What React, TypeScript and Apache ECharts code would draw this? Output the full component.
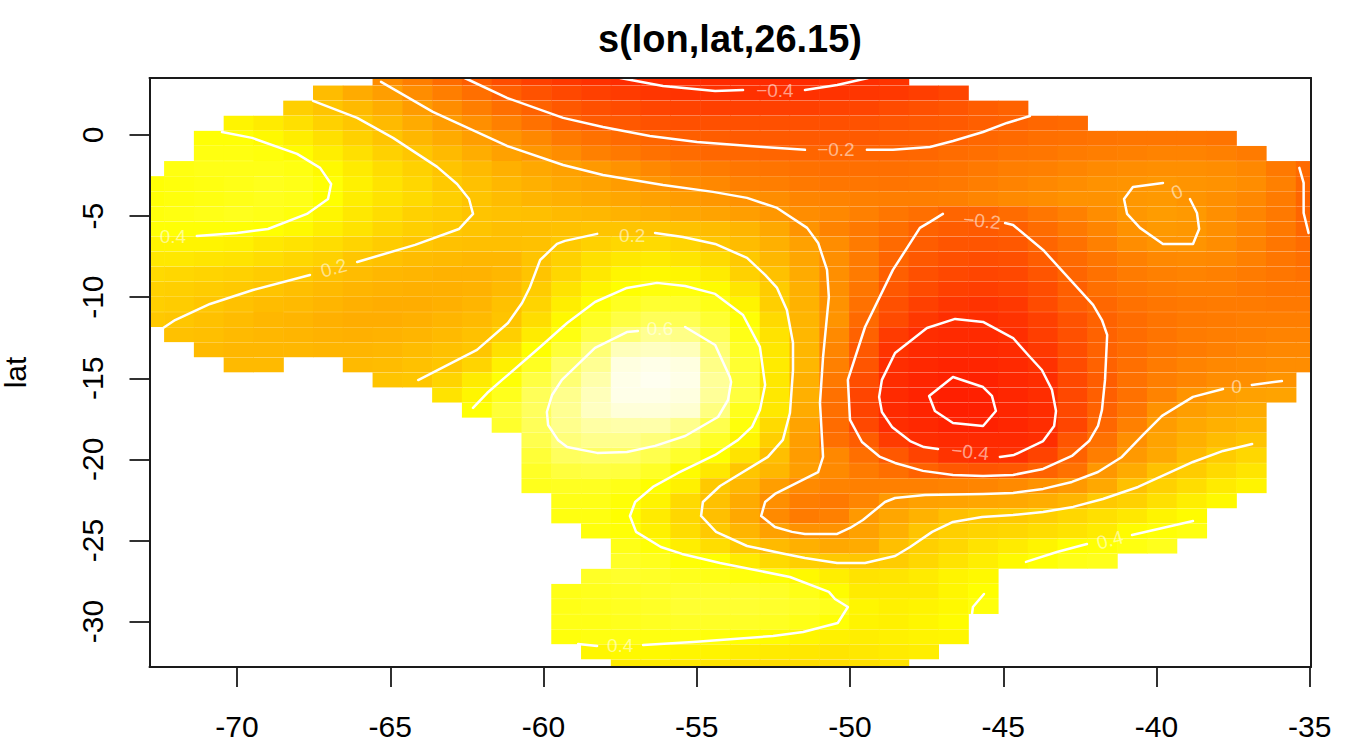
import React, { useEffect, useRef } from "react";
import * as echarts from "echarts";

const lonTicks = [-70, -65, -60, -55, -50, -45, -40, -35];
const latTicks = [-30, -25, -20, -15, -10, -5, 0];
const lonRange = [-72.855, -34.96];
const latRange = [-32.8, 3.51];
const FONT = "Liberation Sans";

// first filled column of each of the 40 rows (north to south)
const rowStarts = [8, 6, 5, 3, 2, 2, 1, 0, 0, 0, 0, 0, 0, 0, 0, 0, 0, 1, 2, 3, 8, 10, 11, 12, 13, 13, 13, 13, 14, 14, 15, 16, 16, 15, 14, 14, 14, 14, 15, 16];
// smooth term in hundredths
const rowValues: (number | null)[][] = [
  [-3, -9, -16, -22, -28, -33, -36, -39, -41, -43, -44, -45, -45, -45, -44, -42, -40, -38],
  [16, 9, 4, -3, -9, -15, -21, -26, -30, -33, -35, -37, -38, -39, -39, -39, -39, -38, -37, -36, -34, -31],
  [23, 19, 15, 10, 3, -3, -9, -15, -20, -24, -27, -29, -31, -32, -33, -33, -33, -33, -32, -31, -29, -27, -25, -22, -20],
  [36, 33, 29, 24, 20, 15, 9, 3, -2, -8, -14, -20, -23, -24, -26, -27, -27, -27, -27, -27, -27, -26, -25, -24, -23, -21, -20, -18, -17],
  [41, 41, 38, 34, 29, 24, 19, 14, 9, 4, 0, -5, -11, -14, -17, -19, -21, -22, -23, -23, -23, -23, -23, -22, -21, -20, -18, -17, -15, -14, -13, -12, -12, -12, -13],
  [43, 43, 42, 39, 34, 29, 24, 20, 15, 10, 5, 1, -3, -8, -11, -14, -16, -18, -18, -19, -19, -19, -19, -19, -18, -16, -15, -13, -12, -10, -9, -8, -7, -7, -8, -10],
  [43, 44, 44, 44, 43, 38, 33, 28, 24, 19, 15, 11, 8, 5, 2, -1, -5, -8, -10, -12, -13, -14, -15, -15, -15, -14, -13, -11, -9, -8, -6, -4, -3, -2, -2, -3, -5, -11, -17],
  [41, 42, 43, 44, 45, 44, 41, 35, 30, 26, 21, 18, 14, 11, 8, 6, 3, 0, -3, -5, -8, -9, -11, -12, -12, -13, -12, -11, -9, -7, -5, -3, -1, 0, 1, 0, -1, -3, -8, -18],
  [41, 42, 43, 44, 45, 44, 40, 34, 30, 27, 23, 19, 16, 13, 11, 9, 7, 5, 3, 1, -1, -3, -6, -7, -8, -9, -9, -8, -6, -4, -3, -1, -1, 1, 2, 0, -2, -5, -10, -19],
  [42, 43, 44, 45, 44, 42, 37, 32, 28, 24, 22, 19, 18, 17, 15, 14, 12, 10, 8, 6, 4, 1, -3, -5, -8, -12, -15, -19, -19, -16, -12, -8, -3, 1, 3, 2, -2, -6, -11, -19],
  [41, 41, 41, 41, 40, 38, 34, 30, 26, 23, 21, 19, 17, 17, 18, 19, 19, 19, 18, 16, 13, 8, 0, -7, -11, -15, -20, -22, -23, -21, -16, -11, -6, -1, 2, 1, -2, -6, -11, -18],
  [36, 36, 36, 35, 32, 30, 28, 25, 22, 20, 18, 17, 17, 18, 21, 24, 26, 27, 25, 20, 16, 11, 5, -3, -10, -17, -22, -25, -25, -24, -19, -14, -8, -3, 0, 0, -3, -7, -12, -16],
  [32, 32, 31, 30, 28, 26, 24, 20, 18, 16, 15, 14, 14, 19, 24, 29, 32, 33, 31, 27, 21, 14, 7, -2, -10, -19, -24, -27, -28, -27, -22, -17, -12, -8, -5, -4, -5, -8, -12, -15],
  [27, 26, 25, 24, 22, 21, 18, 16, 14, 13, 12, 12, 14, 19, 26, 32, 37, 38, 37, 33, 24, 18, 9, -2, -10, -21, -27, -30, -31, -30, -25, -19, -14, -10, -8, -7, -8, -10, -12, -14],
  [24, 23, 22, 21, 19, 17, 15, 13, 12, 11, 11, 12, 15, 22, 30, 36, 40, 42, 42, 39, 31, 22, 11, -2, -12, -24, -29, -33, -34, -32, -28, -21, -15, -12, -10, -9, -9, -11, -12, -12],
  [23, 22, 20, 18, 16, 15, 13, 11, 10, 10, 11, 13, 18, 25, 34, 41, 46, 49, 48, 44, 36, 23, 12, -1, -14, -27, -33, -37, -38, -36, -29, -22, -18, -14, -12, -11, -10, -10, -11, -11],
  [21, 20, 18, 16, 14, 13, 11, 10, 10, 11, 13, 15, 19, 28, 38, 46, 52, 56, 55, 49, 41, 27, 13, 0, -17, -29, -36, -40, -41, -38, -33, -26, -20, -16, -13, -11, -10, -9, -9, -9],
  [18, 17, 15, 14, 13, 12, 11, 12, 13, 15, 18, 23, 33, 43, 52, 61, 66, 64, 55, 44, 30, 14, -4, -20, -35, -41, -46, -46, -40, -34, -27, -20, -16, -13, -10, -9, -8, -7, -7],
  [15, 14, 14, 14, 13, 13, 14, 16, 18, 20, 29, 40, 50, 61, 72, 73, 72, 61, 47, 32, 14, -6, -24, -38, -46, -50, -49, -44, -36, -28, -20, -16, -12, -10, -8, -6, -5, -5],
  [15, 15, null, null, 15, 16, 18, 20, 25, 35, 46, 58, 66, 77, 78, 77, 64, 49, 33, 14, -8, -25, -41, -49, -55, -54, -48, -39, -29, -20, -15, -10, -7, -5, -4, -3, -3],
  [19, 20, 25, 33, 41, 52, 61, 70, 78, 79, 78, 67, 50, 32, 11, -11, -28, -43, -54, -61, -60, -50, -42, -30, -22, -14, -9, -6, -3, -2, 0],
  [30, 37, 45, 56, 65, 72, 78, 78, 77, 67, 51, 32, 11, -14, -31, -46, -57, -63, -62, -52, -42, -30, -21, -14, -7, 0, 3, 5, 6],
  [41, 50, 57, 66, 73, 76, 76, 75, 63, 45, 32, 9, -15, -32, -47, -56, -63, -62, -52, -43, -30, -20, -12, -1, 4, 7, 9],
  [48, 56, 65, 69, 70, 70, 65, 54, 42, 27, 6, -16, -30, -42, -50, -59, -60, -52, -42, -31, -18, -8, 3, 8, 11, 13],
  [54, 62, 65, 65, 62, 56, 47, 37, 23, 4, -15, -22, -35, -42, -46, -47, -46, -40, -25, -14, -2, 6, 11, 16, 19],
  [50, 57, 58, 58, 54, 48, 40, 30, 17, 3, -5, -15, -24, -32, -38, -40, -39, -32, -20, -9, 2, 8, 15, 22, 26],
  [47, 51, 52, 51, 47, 39, 32, 20, 14, 4, -4, -10, -15, -20, -24, -25, -24, -20, -14, 1, 9, 18, 22, 27, 31],
  [45, 46, 46, 44, 40, 35, 21, 14, 4, -4, -7, -8, -8, -8, -7, -6, -4, -1, 2, 8, 18, 24, 28, 33, 36],
  [44, 44, 41, 36, 27, 18, 9, -2, -9, -11, -6, 2, 5, 6, 7, 8, 10, 13, 21, 24, 29, 34, 38],
  [43, 43, 40, 33, 26, 17, 8, -4, -10, -8, 2, 7, 12, 17, 20, 21, 23, 26, 29, 32, 36, 39],
  [42, 41, 35, 28, 21, 13, 5, -1, -1, 5, 11, 19, 23, 25, 26, 28, 30, 33, 39, 41, 43],
  [44, 41, 34, 28, 21, 15, 11, 8, 9, 17, 23, 26, 30, 33, 36, 40, 41, 43, 45],
  [47, 45, 41, 40, 33, 27, 23, 21, 20, 22, 26, 30, 34, 38, 41, 44, 45],
  [47, 48, 47, 45, 44, 42, 41, 38, 34, 30, 31, 33, 36, 38],
  [44, 45, 46, 47, 48, 48, 48, 47, 44, 39, 33, 33, 33, 37, 40],
  [44, 45, 46, 47, 49, 49, 49, 48, 47, 45, 37, 35, 36, 38, 42],
  [44, 44, 45, 46, 47, 47, 47, 46, 44, 41, 36, 35, 37, 39],
  [42, 43, 43, 43, 43, 42, 40, 39, 37, 35, 34, 35, 36, 37],
  [37, 38, 38, 37, 36, 34, 33, 32, 31, 32, 33, 34],
  [33, 33, 32, 31, 29, 28, 28, 28, 29, 30],
];

type Pts = number[][];
const contourPieces: Pts[] = [
  // 0.4, west
  [[-70.49, 0.18], [-69.51, -0.18], [-68.04, -1.17], [-67.29, -2.03], [-66.93, -3.02], [-67.03, -3.95], [-67.72, -4.87], [-68.99, -5.8], [-70, -6.04], [-71.31, -6.23]],
  // 0.2, west
  [[-67.52, 2.1], [-66.08, 1.05], [-64.91, -0.18], [-63.47, -1.97], [-62.82, -3.02], [-62.43, -3.95], [-62.3, -4.87], [-62.76, -5.8], [-64.19, -6.78], [-66.08, -7.83]],
  [[-67.62, -8.63], [-69.48, -9.56], [-70.88, -10.42], [-72.02, -11.41], [-72.41, -11.9]],
  // 0, long line
  [[-65.3, 3.27], [-63.61, 1.42], [-61.19, -0.68], [-59.36, -1.85], [-58.06, -2.47], [-56.1, -3.08], [-54.47, -3.51], [-53.36, -3.88], [-52.38, -4.5], [-51.4, -5.73], [-51.04, -6.66], [-50.75, -8.32], [-50.69, -9.99], [-50.88, -13.69], [-50.98, -16.52], [-50.88, -19.85], [-51.04, -20.78], [-52.45, -22.13], [-52.77, -22.63], [-52.9, -23.49], [-52.45, -24.17], [-51.89, -24.47], [-51.47, -24.6], [-50.42, -24.6], [-50, -24.23], [-49.58, -23.74], [-48.86, -22.63], [-48.53, -22.38], [-47.55, -22.19], [-45.66, -22.13], [-44.68, -22.07], [-43.7, -21.82], [-42.76, -21.39], [-41.91, -20.78], [-41.13, -19.85], [-40.44, -18.49], [-39.82, -17.32], [-38.81, -16.15], [-37.83, -15.66]],
  [[-36.89, -15.41], [-35.91, -15.17]],
  // 0, ring in the east
  [[-39.79, -2.96], [-40.77, -3.21], [-41.06, -3.95], [-40.96, -4.87], [-40.54, -5.73], [-39.79, -6.72], [-38.81, -6.72], [-38.61, -5.8], [-38.68, -4.81], [-38.91, -3.95]],
  // -0.2, far east
  [[-35.34, -2.03], [-35.2, -2.96], [-35.2, -4.81], [-35.04, -6.04]],
  // -0.2, north
  [[-62.57, 3.51], [-61.19, 2.28], [-59.36, 1.05], [-58.06, 0.49], [-56.53, -0.06], [-54.99, -0.43], [-52.84, -0.74], [-51.47, -0.92]],
  [[-49.45, -0.92], [-48.6, -0.92], [-47.39, -0.74], [-46.64, -0.37], [-45.66, 0.18], [-44.88, 0.74], [-44.13, 1.17]],
  // -0.4, north
  [[-57.5, 3.51], [-56.1, 3.02], [-54.4, 2.71], [-53.49, 2.77]],
  [[-51.47, 2.77], [-50.42, 3.08], [-49.41, 3.51]],
  // 0.2, middle
  [[-64.09, -15.11], [-62.17, -13.25], [-61.16, -11.59], [-60.7, -10.36], [-60.44, -9.37], [-60.11, -7.71], [-59.56, -6.72], [-59.3, -6.53], [-58.25, -6.1]],
  [[-56.36, -6.04], [-55.45, -6.29], [-54.4, -6.72], [-53.36, -7.58], [-52.77, -8.63], [-52.38, -9.43], [-52.06, -10.79], [-51.86, -12.82], [-51.86, -14.49], [-51.96, -17.14], [-52.19, -18.8], [-52.68, -19.85], [-54.24, -21.64], [-54.8, -22.63], [-54.86, -23.49], [-54.37, -24.47], [-53.36, -25.34], [-52.28, -25.77], [-51.47, -26.08], [-50.42, -26.39], [-49.51, -26.39], [-48.53, -25.96], [-48.04, -25.4], [-47.32, -24.47], [-46.64, -23.86], [-45.69, -23.55], [-44.68, -23.43], [-43.7, -23.24], [-42.72, -22.93], [-41.75, -22.44], [-40.6, -21.7], [-38.81, -20.16], [-37.83, -19.48], [-36.88, -19.05]],
  // 0.4, middle
  [[-62.3, -16.83], [-61.84, -15.91], [-61.35, -15.1], [-60.11, -13.07], [-59.23, -11.59], [-58.32, -10.3], [-57.28, -9.43], [-56.3, -9.12], [-55.38, -9.31], [-54.4, -9.8], [-53.49, -11.1], [-52.94, -13.07], [-52.77, -15.41], [-52.94, -16.95], [-53.2, -18], [-53.65, -18.8], [-54.4, -19.73], [-55.61, -20.84], [-56.43, -21.7], [-57.01, -22.63], [-57.18, -23.49], [-56.98, -24.47], [-56.17, -25.4], [-55.48, -25.83], [-54.24, -26.39], [-51.96, -27.25], [-50.69, -28.17], [-50.49, -28.61], [-50.07, -29.1], [-50.4, -30.09], [-51.53, -30.64], [-52.51, -30.89], [-55.12, -31.26], [-56.75, -31.44]],
  [[-58.25, -31.5], [-58.87, -31.38]],
  // 0.6
  [[-56.92, -12.08], [-57.28, -12.15], [-58.32, -13.13], [-59.4, -15.1], [-59.72, -16.03], [-59.89, -17.08], [-59.85, -17.88], [-59.53, -18.8], [-59.23, -19.24], [-58.25, -19.6], [-57.28, -19.54], [-56.36, -19.17], [-55.38, -18.56], [-54.31, -17.39], [-53.98, -16.34], [-53.88, -15.23], [-53.92, -14.92], [-54.4, -12.95], [-55.38, -11.84]],
  // -0.2, ring
  [[-44.94, -5.43], [-44.68, -5.55], [-43.7, -7.09], [-42.07, -10.48], [-41.78, -11.41], [-41.61, -12.33], [-41.68, -15.1], [-41.78, -16.95], [-41.91, -17.94], [-42.2, -18.87], [-42.76, -19.79], [-43.7, -20.59], [-44.68, -20.96], [-45.66, -21.02], [-46.64, -20.96], [-47.62, -20.71], [-48.53, -20.22], [-49.02, -19.85], [-49.61, -18.93], [-50, -17.57], [-50.07, -15.1], [-49.51, -11.84], [-48.6, -8.32], [-47.72, -5.73], [-47.39, -5.36], [-46.97, -4.87]],
  // -0.4, ring
  [[-45.11, -19.85], [-44.65, -19.73], [-43.7, -18.87], [-43.34, -17.94], [-43.28, -17.02], [-43.41, -15.72], [-43.74, -14.49], [-44.13, -13.69], [-44.68, -12.52], [-45.66, -11.53], [-46.57, -11.34], [-47.49, -11.9], [-48.53, -13.44], [-48.96, -15.1], [-49.05, -16.15], [-48.96, -17.08], [-48.63, -18], [-48.04, -18.87], [-47.59, -19.24], [-47.13, -19.36]],
  // -0.6, ring
  [[-46.64, -14.92], [-47.42, -16.09], [-47.23, -17.02], [-46.64, -17.76], [-45.66, -17.94], [-45.24, -17.02], [-45.37, -16.09], [-45.66, -15.54], [-46.25, -15.17], [-46.64, -14.92]],
  // 0.4, south-east
  [[-44.26, -26.32], [-43.25, -25.71], [-42.27, -25.22]],
  [[-40.8, -24.66], [-38.81, -23.8]],
  [[-45.63, -28.3], [-45.99, -29.1], [-46.02, -29.53]],
];

const labelTexts = ["0.4", "0.2", "0.2", "0.6", "\u22120.4", "\u22120.2", "\u22120.2", "0", "\u22120.4", "0", "0.4", "0.4"];
const labelLons = [-72.09, -66.84, -57.11, -56.2, -52.45, -50.46, -45.69, -39.33, -46.08, -37.39, -41.52, -57.5];
const labelLats = [-6.29, -8.2, -6.17, -11.96, 2.77, -0.92, -5.3, -3.51, -19.54, -15.53, -24.97, -31.5];
const labelAngles = [0, 15, 0, 0, 0, 0, -6, 22, -6, 0, 15, 0];

// value -> heat colour
const greenStops = [[-0.65, 30], [-0.4, 46], [-0.2, 98], [0, 148], [0.2, 198], [0.4, 255]];
const blueStops = [[0.4, 0], [0.6, 110], [0.7, 170], [0.79, 240]];
function lookup(stops: number[][], v: number): number {
  if (v <= stops[0][0]) return stops[0][1];
  for (let k = 1; k < stops.length; k++) {
    const [a, ga] = stops[k - 1];
    const [c, gc] = stops[k];
    if (v <= c) return ga + ((v - a) / (c - a)) * (gc - ga);
  }
  return stops[stops.length - 1][1];
}
function heat(v: number): string {
  if (v >= 0.4) return `rgb(255,255,${Math.round(lookup(blueStops, v))})`;
  return `rgb(255,${Math.round(lookup(greenStops, v))},0)`;
}

const stepLon = (lonRange[1] - lonRange[0]) / 39;
const stepLat = (latRange[1] - latRange[0]) / 39;

function cellData(): number[][] {
  const out: number[][] = [];
  rowValues.forEach((vals, j) => {
    vals.forEach((v, k) => {
      if (v === null) return;
      out.push([lonRange[0] + (rowStarts[j] + k) * stepLon, latRange[1] - j * stepLat, v / 100]);
    });
  });
  return out;
}

function renderCell(_: any, api: any) {
  const lon = api.value(0);
  const lat = api.value(1);
  const l = Math.max(lon - stepLon / 2, lonRange[0]);
  const r = Math.min(lon + stepLon / 2, lonRange[1]);
  const t = Math.min(lat + stepLat / 2, latRange[1]);
  const b = Math.max(lat - stepLat / 2, latRange[0]);
  const p0 = api.coord([l, t]);
  const p1 = api.coord([r, b]);
  return {
    type: "rect",
    shape: { x: p0[0] - 0.3, y: p0[1], width: p1[0] - p0[0] + 0.6, height: Math.max(0, p1[1] - p0[1] - 0.18) },
    style: { fill: heat(api.value(2)) },
    silent: true,
  };
}

function renderLabel(params: any, api: any) {
  const p = api.coord([api.value(0), api.value(1)]);
  return {
    type: "text",
    x: p[0],
    y: p[1],
    rotation: (labelAngles[params.dataIndex] * Math.PI) / 180,
    style: {
      text: labelTexts[params.dataIndex],
      fill: "rgba(255,255,255,0.55)",
      fontFamily: FONT,
      fontSize: 19,
      align: "center",
      verticalAlign: "middle",
    },
    silent: true,
  };
}

const AXIS_COLOR = "#1a1a1a";

export default function App() {
  const ref = useRef<HTMLDivElement>(null);
  useEffect(() => {
    document.body.style.margin = "0";
    const chart = echarts.init(ref.current!, null, { renderer: "svg" });
    const baseAxis = {
      type: "value",
      scale: true,
      splitLine: { show: false },
      z: 10,
    };
    chart.setOption({
      animation: false,
      backgroundColor: "#ffffff",
      title: {
        text: "s(lon,lat,26.15)",
        left: 725,
        top: 15,
        textAlign: "center",
        textStyle: { fontFamily: FONT, fontSize: 38, fontWeight: "bold", color: "#000" },
      },
      grid: { left: 149.5, right: 37, top: 78, bottom: 89, outerBoundsMode: "none" },
      xAxis: [
        {
          ...baseAxis,
          position: "bottom",
          min: lonRange[0],
          max: lonRange[1],
          axisLine: { show: true, onZero: false, lineStyle: { color: AXIS_COLOR, width: 2 } },
          axisTick: { show: true, customValues: lonTicks, length: 20, lineStyle: { color: AXIS_COLOR, width: 1.8 } },
          axisLabel: { customValues: lonTicks, margin: 44, fontFamily: FONT, fontSize: 30, color: "#000", formatter: (v: number) => String(v) },
        },
        {
          ...baseAxis,
          position: "top",
          min: lonRange[0],
          max: lonRange[1],
          axisLine: { show: true, onZero: false, lineStyle: { color: AXIS_COLOR, width: 2 } },
          axisTick: { show: false },
          axisLabel: { show: false },
        },
      ],
      yAxis: [
        {
          ...baseAxis,
          position: "left",
          min: latRange[0],
          max: latRange[1],
          name: "lat",
          nameLocation: "middle",
          nameGap: 119,
          nameRotate: 90,
          nameTextStyle: { fontFamily: FONT, fontSize: 30, color: "#000" },
          axisLine: { show: true, onZero: false, lineStyle: { color: AXIS_COLOR, width: 2 } },
          axisTick: { show: true, customValues: latTicks, length: 20, lineStyle: { color: AXIS_COLOR, width: 1.8 } },
          axisLabel: { customValues: latTicks, rotate: 90, margin: 42, fontFamily: FONT, fontSize: 30, color: "#000", formatter: (v: number) => String(v) },
        },
        {
          ...baseAxis,
          position: "right",
          min: latRange[0],
          max: latRange[1],
          axisLine: { show: true, onZero: false, lineStyle: { color: AXIS_COLOR, width: 2 } },
          axisTick: { show: false },
          axisLabel: { show: false },
        },
      ],
      series: [
        {
          type: "custom",
          renderItem: renderCell,
          data: cellData(),
          encode: { x: 0, y: 1 },
          silent: true,
          z: 2,
        },
        ...contourPieces.map((pts) => ({
          type: "line",
          data: pts,
          symbol: "none",
          silent: true,
          clip: true,
          z: 3,
          lineStyle: { color: "#ffffff", width: 2.5, cap: "round", join: "round" },
        })),
        {
          type: "custom",
          renderItem: renderLabel,
          data: labelLons.map((lon, k) => [lon, labelLats[k]]),
          encode: { x: 0, y: 1 },
          silent: true,
          z: 4,
        },
      ],
    });
    return () => chart.dispose();
  }, []);
  return <div ref={ref} style={{ position: "absolute", left: 0, top: 0, width: 1348, height: 756 }} />;
}
